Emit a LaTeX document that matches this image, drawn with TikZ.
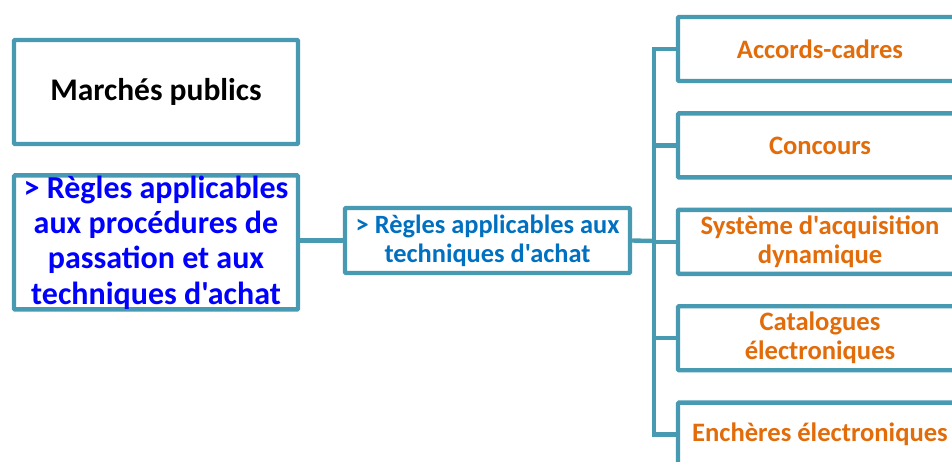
\documentclass[tikz,border=0pt]{standalone}
\usepackage{fontspec}
\setmainfont{Carlito}[Ligatures=TeXOff]
\usetikzlibrary{positioning}
\definecolor{tealline}{RGB}{72,154,178}
\definecolor{orangetxt}{RGB}{227,108,10}
\definecolor{midblue}{RGB}{0,112,192}

\begin{document}
\begin{tikzpicture}[
        x=1pt, y=-1pt,
        node distance=28pt,
        box/.style={rectangle, draw=tealline, line width=4.4pt, rounded corners=1pt, align=center, fill=white, minimum width=284pt, inner sep=1pt, font=\bfseries},
        leaf/.style={box, minimum height=64pt, text=orangetxt, font=\bfseries\fontsize{26.6}{29}\selectfont},
        link/.style={draw=tealline, line width=4.4pt}
    ]
    \useasboundingbox (0,0) rectangle (952,461);
    \clip (0,0) rectangle (952,461);

    % Left column
    \node[box, minimum height=104pt, font=\bfseries\fontsize{31.5}{32}\selectfont] (marches) at (156,92) {Marchés publics};
    \node[box, minimum height=134pt, inner ysep=0pt, below=27pt of marches, text=blue, font=\bfseries\fontsize{32}{35.3}\selectfont] (regles) {> Règles applicables\\aux procédures de\\passation et aux\\techniques d'achat};

    % Middle
    \node[box, minimum width=285pt, minimum height=65pt, text=midblue, font=\bfseries\fontsize{26.4}{29}\selectfont] (techniques) at (487.5,240.5) {> Règles applicables aux\\techniques d'achat};

    % Right column
    \node[leaf] (accords) at (820,49) {Accords-cadres};
    \node[leaf, below=of accords] (concours) {Concours};
    \node[leaf, below=of concours] (sad) {Système d'acquisition\\dynamique};
    \node[leaf, below=of sad] (catalogues) {Catalogues\\électroniques};
    \node[leaf, below=of catalogues] (encheres) {Enchères électroniques};

    % Connections
    \coordinate (bus) at (654,241);
    \path[link] (regles.east |- techniques.west) -- (techniques.west);
    \path[link] (techniques.east) -- (bus);
    \foreach \n in {accords, concours, sad, catalogues, encheres}
        \path[link] (bus) |- (\n.west);
\end{tikzpicture}
\end{document}
